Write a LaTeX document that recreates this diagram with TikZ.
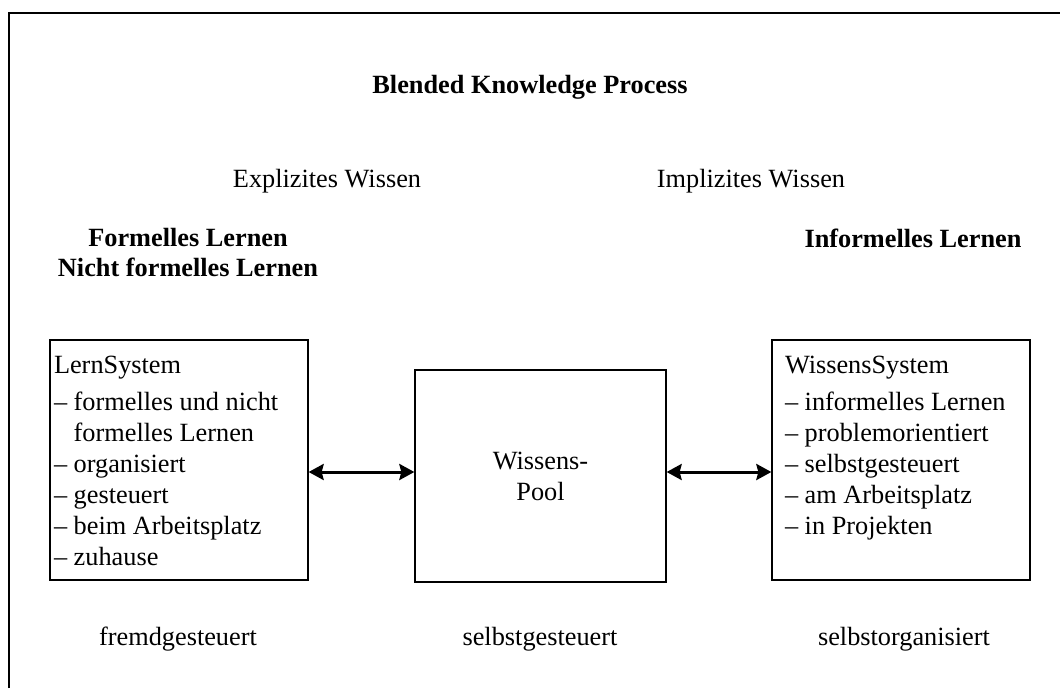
\documentclass[tikz,border=0pt]{standalone}
\usepackage{fontspec}
\setmainfont{Liberation Serif}
\usetikzlibrary{arrows.meta, calc, positioning}

\begin{document}
\begin{tikzpicture}[x=1pt, y=-1pt, >={Stealth[length=15pt, width=16pt, inset=2pt]},
	font=\fontsize{26.3}{31}\selectfont]
	\tikzstyle{sysbox} = [draw, line width=1.3pt, inner xsep=4pt, inner ysep=16pt, minimum width=258pt, minimum height=240pt]
	\tikzstyle{poolbox} = [draw, line width=1.3pt, minimum width=251pt, minimum height=212pt, align=center]
	\tikzstyle{heading} = [font=\fontsize{26.3}{30}\selectfont\bfseries, align=center, anchor=base]
	\tikzstyle{label} = [anchor=base, inner sep=0pt]
	\tikzstyle{link} = [<->, line width=3pt]

	\useasboundingbox (0,0) rectangle (1060,688);

	% frame
	\draw[line width=2pt] (9,688) -- (9,13) -- (1060,13);

	% headings
	\node[heading] (title) at (530,93) {Blended Knowledge Process};
	\node[label] (explizit) at (327,187) {Explizites Wissen};
	\node[label] (implizit) at (751,187) {Implizites Wissen};
	\node[heading, inner sep=0pt] (formell) at (188,276) {Formelles Lernen\\Nicht formelles Lernen};
	\node[heading, inner sep=0pt] (informell) at (913,247) {Informelles Lernen};

	% boxes
	\node[sysbox] (lern) at (179,460) {\parbox[c][208pt][t]{250pt}{\raggedright
		LernSystem\\[6pt]
		-- formelles und nicht\\
		\phantom{-- }formelles Lernen\\
		-- organisiert\\
		-- gesteuert\\
		-- beim Arbeitsplatz\\
		-- zuhause}};
	\node[poolbox] (pool) at (540.5,476) {Wissens-\\Pool};
	\node[sysbox, inner xsep=13pt] (wissen) at (901,460) {\parbox[c][208pt][t]{232pt}{\raggedright
		WissensSystem\\[6pt]
		-- informelles Lernen\\
		-- problemorientiert\\
		-- selbstgesteuert\\
		-- am Arbeitsplatz\\
		-- in Projekten}};

	\draw[link] ($(lern.east)+(0,12)$) -- ($(pool.west)+(0,-4)$);
	\draw[link] ($(pool.east)+(0,-4)$) -- ($(wissen.west)+(0,12)$);

	% bottom
	\node[label] (fremd) at (178,645) {fremdgesteuert};
	\node[label] (selbstg) at (540,645) {selbstgesteuert};
	\node[label] (selbsto) at (904,645) {selbstorganisiert};
\end{tikzpicture}
\end{document}
